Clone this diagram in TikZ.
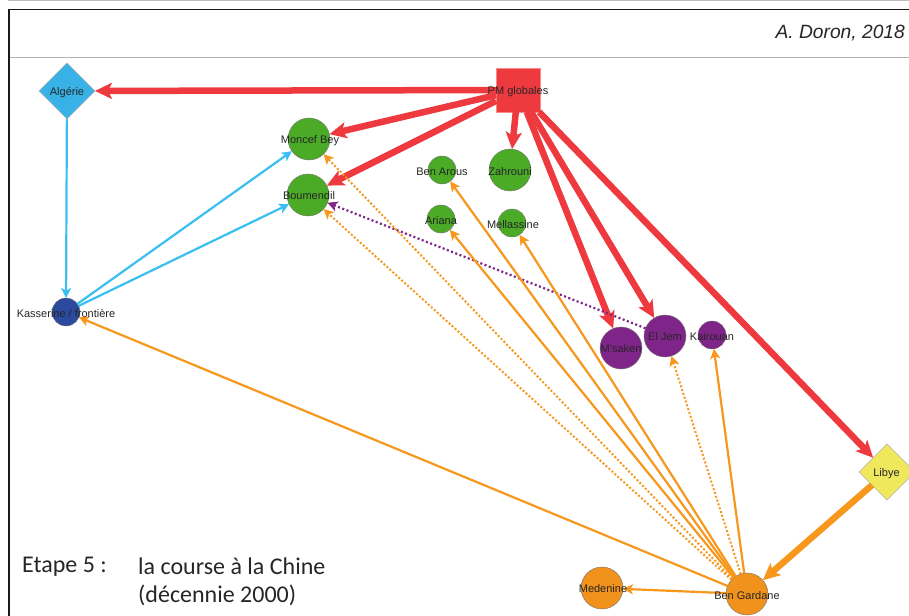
\documentclass[tikz,border=0pt]{standalone}
\usepackage{fontspec}
\setmainfont{Liberation Sans}
\newfontfamily\capfont{Carlito}
\usetikzlibrary{arrows.meta,shapes.geometric}
\definecolor{cred}{HTML}{EE3A3E}
\definecolor{corange}{HTML}{F7981D}
\definecolor{cnodeor}{HTML}{F0921C}
\definecolor{cgreen}{HTML}{4BAA26}
\definecolor{cblue}{HTML}{3ABFF0}
\definecolor{cdia}{HTML}{38B2E6}
\definecolor{cdark}{HTML}{2B4A9E}
\definecolor{cpurple}{HTML}{7F2488}
\definecolor{cyellow}{HTML}{EFE85C}
\tikzset{
  x=1bp,y=-1bp,
  big/.style={circle,draw=black!55,line width=.4bp,minimum size=42bp,inner sep=0pt,outer sep=0pt},
  small/.style={circle,draw=black!55,line width=.4bp,minimum size=28bp,inner sep=0pt,outer sep=0pt},
  dia/.style={diamond,aspect=1,draw=black!30,line width=.4bp,minimum width=56bp,minimum height=56bp,inner sep=0pt,outer sep=0pt},
  lab/.style={font=\fontsize{11bp}{12bp}\selectfont,text=black!85,inner sep=0pt,yshift=-0.8bp},
  redarrow/.style={cred,line width=6.5bp,-{Stealth[length=17bp,width=16bp,inset=4bp]}},
  orthick/.style={corange,line width=6.5bp,-{Stealth[length=17bp,width=16bp,inset=4bp]}},
  thinarrow/.style={line width=2.2bp,-{Stealth[length=10bp,width=10bp,inset=2.5bp]}},
  orline/.style={thinarrow,corange},
  ordot/.style={orline,line width=2bp,dash pattern=on 2bp off 2bp},
  puline/.style={thinarrow,cpurple,dash pattern=on 2bp off 2.5bp},
  blline/.style={thinarrow,cblue},
}
\begin{document}
\begin{tikzpicture}
\useasboundingbox (0,0) rectangle (909,616);
\fill[white] (0,0) rectangle (909,616);
\coordinate (gt0) at (8,0.5); \coordinate (gt1) at (909,0.5);
\coordinate (bt0) at (9,9.5); \coordinate (bt1) at (909,9.5); \coordinate (bt2) at (9,616);
\coordinate (hl0) at (9.5,57.5); \coordinate (hl1) at (909,57.5);
\draw[black!25,line width=1bp] (gt0) -- (gt1);
\draw[black!90,line width=1.3bp] (bt2) -- (bt0) -- (bt1);
\draw[black!30,line width=.7bp] (hl0) -- (hl1);
% nodes
\node[dia,fill=cdia] (alg) at (67,91) {};
\node[rectangle,fill=cred,draw=cred!60,line width=.4bp,minimum size=44bp,inner sep=0pt,outer sep=0pt] (pm) at (518,90) {};
\node[big,fill=cgreen] (mon) at (309,139) {};
\node[big,fill=cgreen] (bou) at (308,195) {};
\node[small,fill=cgreen] (ben) at (442,170) {};
\node[big,fill=cgreen] (zah) at (510,170) {};
\node[small,fill=cgreen] (ari) at (441,219) {};
\node[small,fill=cgreen] (mel) at (512,223) {};
\node[small,fill=cdark] (kas) at (66,312) {};
\node[big,fill=cpurple] (msa) at (621,348) {};
\node[big,fill=cpurple] (elj) at (665,336) {};
\node[small,fill=cpurple] (kai) at (712,335) {};
\node[dia,fill=cyellow] (lib) at (887,472) {};
\node[big,fill=cnodeor] (bga) at (747,594) {};
\node[big,fill=cnodeor] (med) at (602,588) {};
% edges
\draw[redarrow] (pm) -- (alg);
\draw[redarrow] (pm) -- (mon);
\draw[redarrow] (pm) -- (bou);
\draw[redarrow] (pm) -- (zah);
\draw[redarrow] (pm) -- (msa);
\draw[redarrow] (pm) -- (elj);
\draw[redarrow] (pm) -- (lib);
\draw[orthick] (lib) -- (bga);
\draw[blline] (alg) -- (kas);
\draw[blline] (kas) -- (mon);
\draw[blline] (kas) -- (bou);
\draw[puline] (elj) -- (bou);
\draw[ordot] (bga) -- (mon);
\draw[ordot] (bga) -- (bou);
\draw[ordot] (bga) -- (elj);
\draw[orline] (bga) -- (ben);
\draw[orline] (bga) -- (ari);
\draw[orline] (bga) -- (mel);
\draw[orline] (bga) -- (kai);
\draw[orline] (bga) -- (kas);
\draw[orline] (bga) -- (med);
% labels
\node[lab] (talg) at (67,91.5) {Algérie};
\node[lab] (tpm) at (518,90.5) {PM globales};
\node[lab] (tmon) at (310,139.5) {Moncef Bey};
\node[lab] (tbou) at (309,195) {Boumendil};
\node[lab] (tben) at (442,170.5) {Ben Arous};
\node[lab] (tzah) at (510,170.5) {Zahrouni};
\node[lab] (tari) at (441,219.5) {Ariana};
\node[lab] (tmel) at (513,223.5) {Mellassine};
\node[lab] (tkas) at (66,313) {Kasserine / frontière};
\node[lab] (tmsa) at (621,348) {M'saken};
\node[lab] (telj) at (665,336) {El Jem};
\node[lab] (tkai) at (712,336) {Kairouan};
\node[lab] (tlib) at (886.5,472.5) {Libye};
\node[lab] (tbga) at (747,595) {Ben Gardane};
\node[lab] (tmed) at (603,588) {Medenine};
\node[anchor=east,inner sep=0pt,font=\fontsize{19.2bp}{22bp}\selectfont\itshape,text=black!85] (tdor) at (905,33.5) {A. Doron, 2018};
\node[anchor=west,inner sep=0pt,font=\capfont\fontsize{24bp}{28bp}\selectfont,text=black!85] (tet) at (22,566.5) {Etape 5 :};
\node[anchor=west,inner sep=0pt,font=\capfont\fontsize{24bp}{28bp}\selectfont,text=black!85] (tla) at (138,566.5) {la course à la Chine};
\node[anchor=west,inner sep=0pt,font=\capfont\fontsize{24bp}{28bp}\selectfont,text=black!85] (tde) at (138,595) {(décennie 2000)};
\end{tikzpicture}
\end{document}
